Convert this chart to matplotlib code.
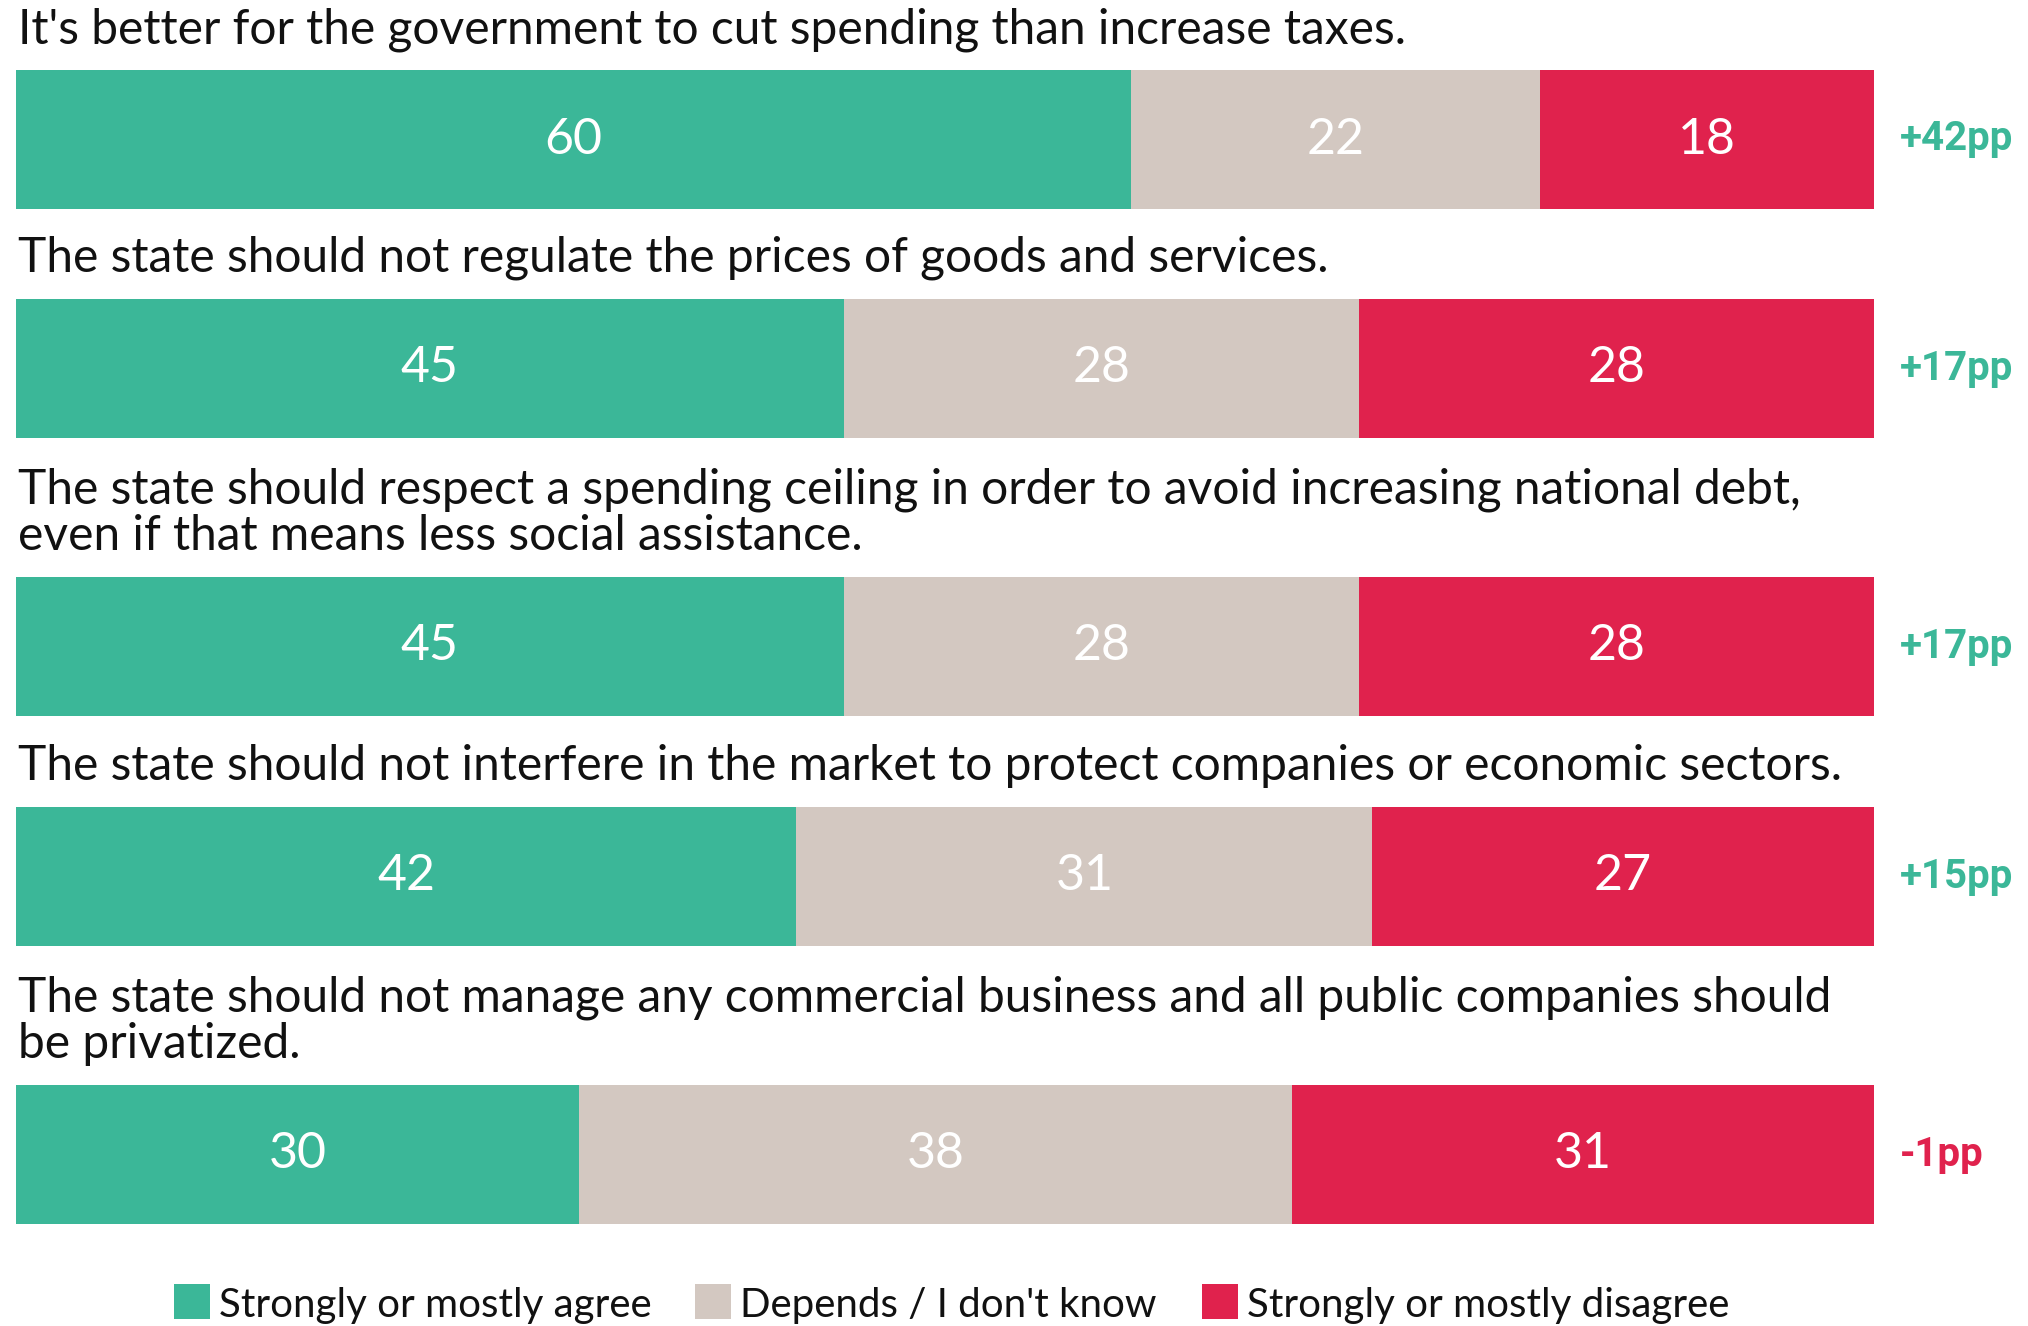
import numpy as np
import matplotlib
matplotlib.use("Agg")
import matplotlib.pyplot as plt

questions = [
    "It's better for the government to cut spending than increase taxes.",
    "The state should not regulate the prices of goods and services.",
    "The state should respect a spending ceiling in order to avoid increasing national debt,\neven if that means less social assistance.",
    "The state should not interfere in the market to protect companies or economic sectors.",
    "The state should not manage any commercial business and all public companies should\nbe privatized.",
]
agree = [60, 45, 45, 42, 30]
depends = [22, 28, 28, 31, 38]
disagree = [18, 28, 28, 27, 31]
net = ["+42pp", "+17pp", "+17pp", "+15pp", "-1pp"]
categories = ["Strongly or mostly agree", "Depends / I don't know", "Strongly or mostly disagree"]

GREEN, BEIGE, RED = "#3BB798", "#D3C8C1", "#E0224D"
W, H = 2028, 1326

fig = plt.figure(figsize=(W / 100, H / 100), dpi=100)
# axes x spans the bar width, y is in pixel rows (top = 0)
ax = fig.add_axes([16 / W, 0, 1858 / W, 1])
ax.set_xlim(0, 1); ax.set_ylim(H, 0); ax.axis("off")

bar_top = [70, 299, 577, 807, 1085]
bar_h = 139
centers = np.array(bar_top) + bar_h / 2

vals = np.array([agree, depends, disagree], dtype=float)
shares = vals / vals.sum(axis=0)
left = np.zeros(len(agree))
for k, col in enumerate([GREEN, BEIGE, RED]):
    ax.barh(centers, shares[k], left=left, height=bar_h, color=col, linewidth=0)
    for i in range(len(agree)):
        ax.text(left[i] + shares[k][i] / 2, centers[i], f"{int(vals[k][i])}", ha="center", va="center",
                color="white", fontsize=36, family="Lato")
    left += shares[k]

for i, q in enumerate(questions):
    lines = q.split("\n")
    for j, ln in enumerate(reversed(lines)):
        yb = bar_top[i] - 27 - 46 * j
        fig.text(18 / W, 1 - yb / H, ln, ha="left", va="baseline", fontsize=34.5, family="Lato", color="#111111")
    c = GREEN if net[i].startswith("+") else RED
    fig.text(1900 / W, 1 - centers[i] / H, net[i], ha="left", va="center", fontsize=29,
             family="Roboto", weight="bold", color=c)

# legend
leg_x = [174, 695, 1202]
for x0, col, lab in zip(leg_x, [GREEN, BEIGE, RED], categories):
    fig.patches.append(plt.Rectangle((x0 / W, 1 - 1319 / H), 36 / W, 35 / H, transform=fig.transFigure,
                                     color=col, linewidth=0))
    fig.text((x0 + 45) / W, 1 - 1317 / H, lab, ha="left", va="baseline", fontsize=29, family="Lato",
             color="#111111")

fig.savefig("out.png", dpi=100, facecolor="white")
